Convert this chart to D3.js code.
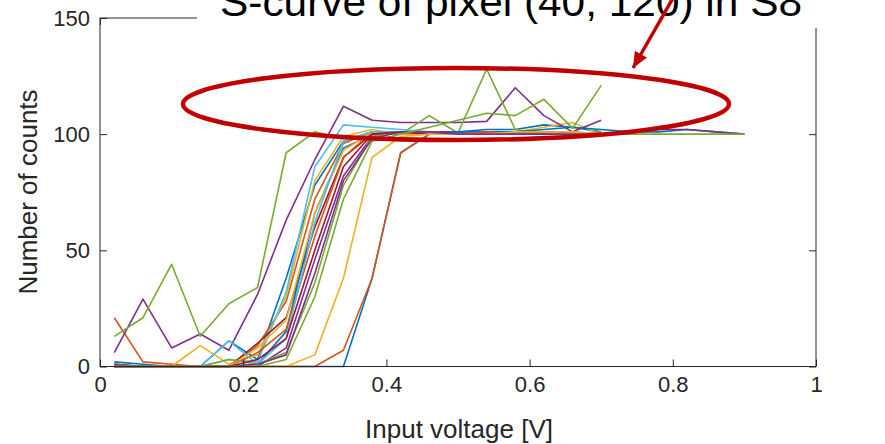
<!DOCTYPE html>
<html>
<head>
<meta charset="utf-8">
<script src="https://cdn.jsdelivr.net/npm/d3@7"></script>
<style>
body { margin: 0; background: #fff; }
svg { display: block; }
text { font-family: "Liberation Sans", Arial, sans-serif; }
</style>
</head>
<body>
<svg id="chart" width="885" height="444"></svg>
<script>
// input voltage steps [V]
var voltage = [0.02, 0.06, 0.10, 0.14, 0.18, 0.22, 0.26, 0.30, 0.34, 0.38, 0.42, 0.46,
               0.50, 0.54, 0.58, 0.62, 0.66, 0.70, 0.74, 0.78, 0.82, 0.86, 0.90];

// number of counts, one array per pixel curve
var curve01 = [2, 1, 0, 0, 11, 3, 38, 78, 97, 101, 100, 101, 101, 102, 102, 104, 103, 101];
var curve02 = [21, 2, 1, 0, 0, 9, 28, 72, 96, 101, 101, 100, 100, 101, 100, 100, 101, 100];
var curve03 = [0, 0, 0, 9, 1, 5, 30, 80, 99, 102, 100, 100, 101, 100, 101, 103, 105, 100];
var curve04 = [6, 29, 8, 14, 7, 31, 63, 89, 112, 106, 105, 105, 105, 105.5, 120, 108, 101, 106];
var curve05 = [13, 21, 44, 13, 27, 34, 92, 101, 98, 100, 100, 108, 100.5, 128, 102, 100, 100, 101];
var curve06 = [1, 0, 0, 0, 3, 2, 32, 86, 104, 103, 102, 101, 101, 101, 100, 100, 100, 100];
var curve07 = [0, 0, 0, 0, 0, 10, 21, 60, 90, 100, 101, 101, 101, 100, 100, 101, 100, 100];
var curve08 = [1, 0, 0, 0, 0, 1, 15, 66, 94, 100, 101, 101, 101, 101, 101, 102, 103, 102, 101, 101, 102, 101, 100];
var curve09 = [0, 0, 0, 0, 0, 6, 16, 56, 90, 101, 101, 100, 100, 100, 100, 101, 100, 100];
var curve10 = [0, 0, 0, 0, 0, 8, 20, 66, 93, 101, 101, 101, 100, 100, 100, 101, 101, 100];
var curve11 = [1, 0, 0, 0, 0, 0, 8, 46, 82, 99, 101, 101, 101, 101, 101, 100, 100, 100, 101, 102, 102, 101, 100];
var curve12 = [0, 0, 0, 0, 3, 1, 6, 36, 78, 99, 101, 100, 100, 100, 101, 100, 100, 100, 100, 100, 100, 100, 100];
var curve13 = [0, 0, 0, 0, 11, 1, 12, 62, 97, 101, 101, 101, 100, 100, 100, 100, 100, 100];
var curve14 = [0, 0, 0, 0, 0, 3, 12, 50, 86, 100, 101, 100, 100, 100, 100, 100, 100, 100];
var curve15 = [0, 0, 0, 0, 0, 0, 0, 0, 0, 38, 92, 100, 101, 101, 101, 101, 100, 100];
var curve16 = [0, 0, 0, 0, 0, 0, 0, 0, 7, 38, 92, 100, 100, 101, 100, 100, 100, 100];
var curve17 = [0, 0, 0, 0, 0, 0, 0, 5, 38, 90, 99, 100, 100, 100, 101, 101, 100, 100];
var curve18 = [0, 0, 0, 0, 0, 1, 5, 40, 80, 98, 101, 101, 100, 100, 100, 100, 100, 100];
var curve19 = [0, 0, 0, 0, 0, 0, 3, 30, 72, 97, 100, 103, 106, 109, 108, 115, 102.5, 121];

var curves = [curve01, curve02, curve03, curve04, curve05, curve06, curve07, curve08, curve09, curve10,
              curve11, curve12, curve13, curve14, curve15, curve16, curve17, curve18, curve19];

var lineColors = ["#0072BD", "#D95319", "#EDB120", "#7E2F8E", "#77AC30", "#4DBEEE", "#A2142F"];
var xTicks = [0, 0.2, 0.4, 0.6, 0.8, 1];
var yTicks = [0, 50, 100, 150];
var titleText = "S-curve of pixel (40, 120) in S8";

var plotLeft = 100, plotRight = 816, plotTop = 18, plotBottom = 366.5;
var axisColor = "#262626";

var svg = d3.select("#chart");

var xScale = d3.scaleLinear().domain([0, 1]).range([plotLeft, plotRight]);
var yScale = d3.scaleLinear().domain([0, 150]).range([plotBottom, plotTop]);

// curves
var line = d3.line()
    .x(function(d, i) { return xScale(voltage[i]); })
    .y(function(d) { return yScale(d); });

svg.append("g")
    .selectAll("path")
    .data(curves)
    .enter()
    .append("path")
    .attr("d", line)
    .attr("fill", "none")
    .attr("stroke", function(d, i) { return lineColors[i % lineColors.length]; })
    .attr("stroke-width", 1.6)
    .attr("stroke-linejoin", "round");

// box + inward ticks
svg.append("rect")
    .attr("x", plotLeft).attr("y", plotTop)
    .attr("width", plotRight - plotLeft).attr("height", plotBottom - plotTop)
    .attr("fill", "none")
    .attr("stroke", axisColor)
    .attr("stroke-width", 1);

var xAxis = d3.axisBottom(xScale).tickValues(xTicks).tickSize(-7).tickPadding(10)
    .tickFormat(function(d) { return d === 0 || d === 1 ? d : d3.format(".1f")(d); });
var yAxis = d3.axisLeft(yScale).tickValues(yTicks).tickSize(-7).tickPadding(10);

var gx = svg.append("g").attr("transform", "translate(0," + plotBottom + ")").call(xAxis);
var gy = svg.append("g").attr("transform", "translate(" + plotLeft + ",0)").call(yAxis);
svg.append("g").attr("transform", "translate(0," + plotTop + ")")
    .call(d3.axisTop(xScale).tickValues(xTicks).tickSize(-7).tickFormat(""));
svg.append("g").attr("transform", "translate(" + plotRight + ",0)")
    .call(d3.axisRight(yScale).tickValues(yTicks).tickSize(-7).tickFormat(""));

svg.selectAll(".domain").remove();
svg.selectAll(".tick line").attr("stroke", axisColor);
gx.selectAll("text").attr("font-size", 22).attr("fill", axisColor)
    .attr("font-family", "Liberation Sans, Arial, sans-serif");
gy.selectAll("text").attr("font-size", 22).attr("fill", axisColor)
    .attr("font-family", "Liberation Sans, Arial, sans-serif");

svg.append("text")
    .attr("x", (plotLeft + plotRight) / 2 + 1)
    .attr("y", 438)
    .attr("text-anchor", "middle")
    .attr("font-size", 26)
    .attr("fill", axisColor)
    .text("Input voltage [V]");

svg.append("text")
    .attr("transform", "translate(37,192) rotate(-90)")
    .attr("text-anchor", "middle")
    .attr("font-size", 26)
    .attr("fill", axisColor)
    .text("Number of counts");

// title box, cut off at the top
svg.append("rect")
    .attr("x", 197).attr("y", 0)
    .attr("width", 688).attr("height", 28)
    .attr("fill", "#fff");

svg.append("text")
    .attr("x", 220)
    .attr("y", 16)
    .attr("font-size", 41)
    .attr("fill", "#000")
    .attr("textLength", 582)
    .attr("lengthAdjust", "spacingAndGlyphs")
    .text(titleText);

// red annotation
svg.append("ellipse")
    .attr("cx", 456).attr("cy", 104)
    .attr("rx", 273).attr("ry", 36)
    .attr("fill", "none")
    .attr("stroke", "#C00000")
    .attr("stroke-width", 4.5);

svg.append("defs").append("marker")
    .attr("id", "head")
    .attr("markerUnits", "userSpaceOnUse")
    .attr("viewBox", "0 0 16 14")
    .attr("refX", 16).attr("refY", 7)
    .attr("markerWidth", 16).attr("markerHeight", 14)
    .attr("orient", "auto")
    .append("path")
    .attr("d", "M0,0 L16,7 L0,14 Z")
    .attr("fill", "#C00000");

svg.append("line")
    .attr("x1", 673).attr("y1", -2)
    .attr("x2", 633).attr("y2", 68)
    .attr("stroke", "#C00000")
    .attr("stroke-width", 3.5)
    .attr("marker-end", "url(#head)");
</script>
</body>
</html>
